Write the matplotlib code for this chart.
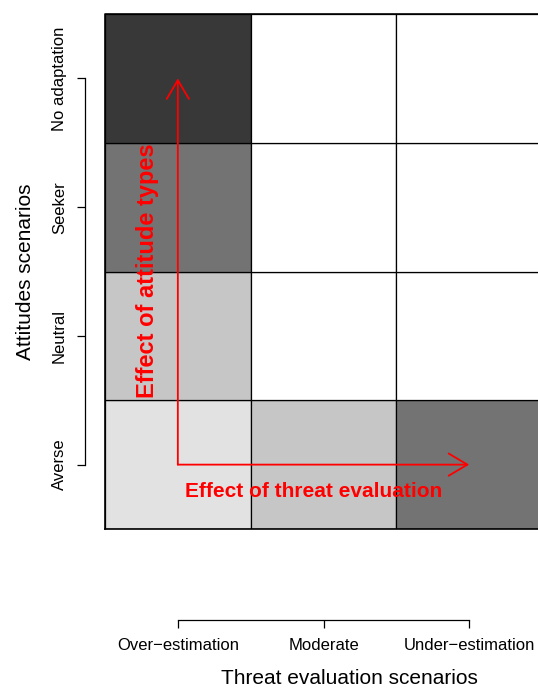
import matplotlib
matplotlib.use('Agg')
import matplotlib.pyplot as plt

plt.rcParams['font.family'] = ['Liberation Sans', 'DejaVu Sans']

threat = ['Over\u2212estimation', 'Moderate', 'Under\u2212estimation']
attitudes = ['Averse', 'Neutral', 'Seeker', 'No adaptation']
# cell shades, one row per attitude (bottom to top), one column per threat scenario
shades = [
    ['#e2e2e2', '#c6c6c6', '#737373'],
    ['#c6c6c6', 'white', 'white'],
    ['#737373', 'white', 'white'],
    ['#383838', 'white', 'white'],
]

fig = plt.figure(figsize=(5.38, 6.88), dpi=100)
W, H = 538, 688
ax = fig.add_axes([105 / W, 1 - 529 / H, (542 - 105) / W, 515 / H])

xs = list(range(len(threat)))
for i, row in enumerate(shades):
    ax.bar(xs, 1, bottom=i, width=1, align='edge', color=row,
           edgecolor='black', linewidth=0.9)

ax.set_xlim(0, len(threat))
ax.set_ylim(0, len(attitudes))

# arrows
red = '#ff0000'
aprops = dict(arrowstyle='->,head_length=13.5,head_width=8', mutation_scale=1,
              shrinkA=0, shrinkB=0, lw=1.3, color=red)
ax.annotate('', xy=(0.5, 3.5), xytext=(0.5, 0.5), arrowprops=aprops)
ax.annotate('', xy=(2.5, 0.5), xytext=(0.5, 0.5), arrowprops=aprops)
ax.text(1.435, 0.251, 'Effect of threat evaluation', color=red, fontsize=15,
        fontweight='bold', ha='center', va='baseline')
ax.text(0.295, 2.01, 'Effect of attitude types', color=red, fontsize=17,
        fontweight='bold', ha='center', va='center', rotation=90)

# R-style detached axes
for s in ['top', 'right']:
    ax.spines[s].set_visible(False)
ax.spines['bottom'].set_position(('outward', 91 * 0.72))
ax.spines['left'].set_position(('outward', 20 * 0.72))
ax.spines['bottom'].set_bounds(0.5, 2.5)
ax.spines['left'].set_bounds(0.5, 3.5)
ax.spines['bottom'].set_linewidth(0.9)
ax.spines['left'].set_linewidth(0.9)

ax.set_xticks([x + 0.5 for x in xs])
ax.set_xticklabels(threat, fontsize=12)
ax.set_yticks([i + 0.5 for i in range(len(attitudes))])
ax.set_yticklabels(attitudes, fontsize=12, rotation=90, va='center')
ax.tick_params(axis='x', length=6, width=0.9, pad=7)
ax.tick_params(axis='y', length=6, width=0.9, pad=7)

ax.set_xlabel('Threat evaluation scenarios', fontsize=15)
ax.xaxis.label.set_va('center')
ax.xaxis.set_label_coords(0.5595, -150 / 515)
ax.set_ylabel('Attitudes scenarios', fontsize=15, labelpad=12)

# plot frame
ax.plot([0, 0, 3, 3], [0, 4, 4, 0], color='black', lw=1.2, clip_on=False)
ax.plot([0, 3], [0, 0], color='black', lw=1.2, clip_on=False)

fig.savefig('out.png', dpi=100)
